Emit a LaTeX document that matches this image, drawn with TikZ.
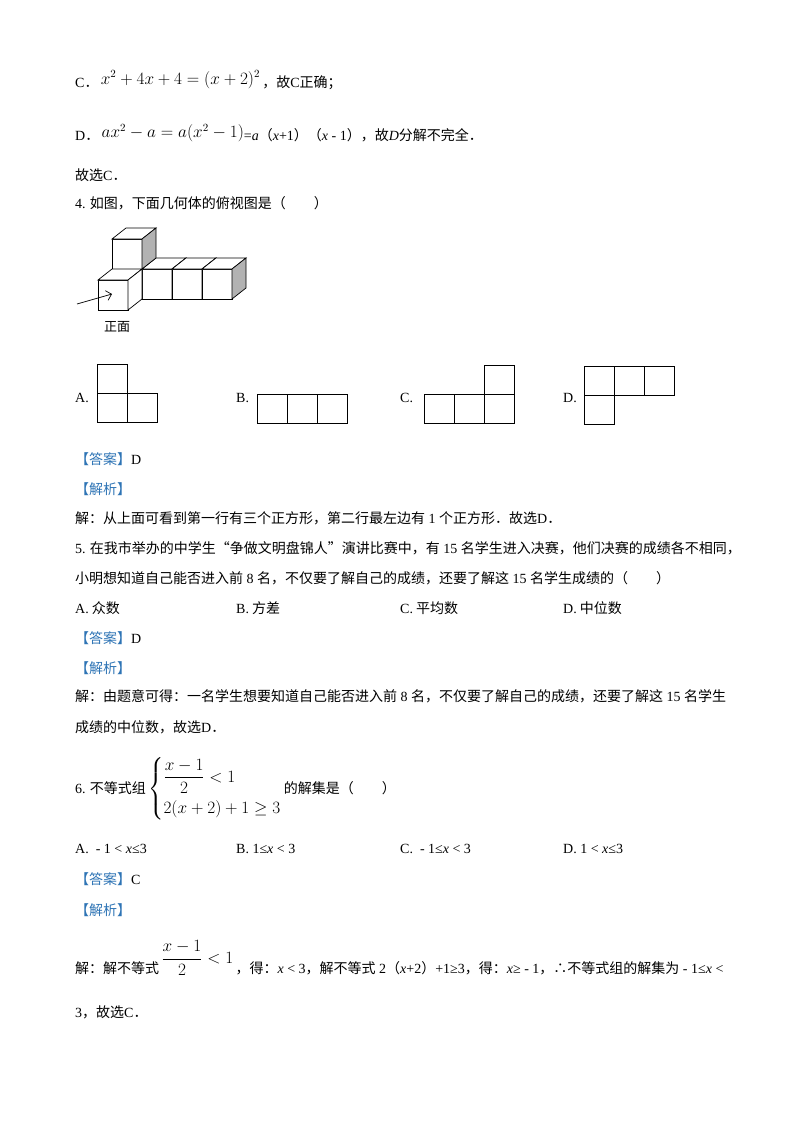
\documentclass[tikz,border=0pt]{standalone}
\usepackage{amsmath}
\usepackage{fontspec}
\setmainfont{Noto Sans CJK SC}
\newfontfamily\lat{Liberation Serif}
\usetikzlibrary{arrows.meta}
\definecolor{tagblue}{RGB}{46,116,181}
\newcommand{\lt}[1]{{\lat #1}}
\newcommand{\li}[1]{{\lat\itshape #1}}
\newcommand{\bm}[1]{{\fontsize{16}{19}\selectfont$#1$}}
\newcommand{\mytag}[1]{\textcolor{tagblue}{【#1】}}
\newcommand{\cubeat}[4]{%
  \filldraw[fill=white] (#1,#2,#3)--(#1+1,#2,#3)--(#1+1,#2+1,#3)--(#1,#2+1,#3)--cycle;
  \filldraw[fill=white] (#1,#2+1,#3)--(#1+1,#2+1,#3)--(#1+1,#2+1,#3+1)--(#1,#2+1,#3+1)--cycle;
  \filldraw[fill=#4] (#1+1,#2,#3)--(#1+1,#2,#3+1)--(#1+1,#2+1,#3+1)--(#1+1,#2+1,#3)--cycle;}
\begin{document}
\begin{tikzpicture}[x=1pt,y=-1pt,
  txt/.style={anchor=west,inner sep=0pt,font=\fontsize{14}{17}\selectfont},
  sq/.style={draw,line width=0.8pt}]
\useasboundingbox[fill=white] (0,0) rectangle (800,1132);
\node[txt] (l1) at (75,80) {\lt{C}．\,\raisebox{3pt}{\bm{x^2+4x+4=(x+2)^2}}\,，故\lt{C}正确；};
\node[txt] (l2) at (75,133) {\lt{D}．\,\raisebox{3pt}{\bm{ax^2-a=a(x^2-1)}}\lt{=\textit{a}}（\lt{\textit{x}+1}）（\lt{\textit{x} - 1}），故\li{D}分解不完全．};
\node[txt] (l3) at (75,175) {故选\lt{C}．};
\node[txt] (l4) at (75,203) {\lt{4.} 如图，下面几何体的俯视图是（\hspace{2em}）};
% cubes
\begin{scope}[shift={(98,310)},x={(30pt,0pt)},y={(0pt,30pt)},z={(14pt,11pt)},line width=0.7pt]
\cubeat{1}{0}{1}{white}
\cubeat{2}{0}{1}{white}
\cubeat{3}{0}{1}{gray!60}
\cubeat{0}{1}{1}{gray!60}
\cubeat{0}{0}{0}{white}
\end{scope}
\coordinate (as) at (77,304);
\coordinate (ae) at (112,294);
\draw[-{Straight Barb[length=5pt]},line width=0.7pt] (as)--(ae);
\node[txt,anchor=center,font=\fontsize{13}{15}\selectfont] (zm) at (117,327) {正面};
% options
\node[txt] (oa) at (75,398) {\lt{A.}};
\draw[sq] (97,364) rectangle (127,393) (97,393) rectangle (127,422) (127,393) rectangle (157,422);
\node[txt] (ob) at (236,398) {\lt{B.}};
\draw[sq] (257,394) rectangle (287,423) (287,394) rectangle (317,423) (317,394) rectangle (347,423);
\node[txt] (oc) at (400,398) {\lt{C.}};
\draw[sq] (424,394) rectangle (454,423) (454,394) rectangle (484,423) (484,394) rectangle (514,423) (484,365) rectangle (514,394);
\node[txt] (od) at (563,398) {\lt{D.}};
\draw[sq] (584,366) rectangle (614,395) (614,366) rectangle (644,395) (644,366) rectangle (674,395) (584,395) rectangle (614,424);
\node[txt] (a4) at (75,459) {\mytag{答案}\lt{D}};
\node[txt] (j4) at (75,489) {\mytag{解析}};
\node[txt] (s4) at (75,518) {解：从上面可看到第一行有三个正方形，第二行最左边有\lt{ 1 }个正方形．故选\lt{D}．};
\node[txt] (q5) at (75,548) {\lt{5.} 在我市举办的中学生“争做文明盘锦人”演讲比赛中，有\lt{ 15 }名学生进入决赛，他们决赛的成绩各不相同，};
\node[txt] (q5b) at (75,578) {小明想知道自己能否进入前\lt{ 8 }名，不仅要了解自己的成绩，还要了解这\lt{ 15 }名学生成绩的（\hspace{2em}）};
\node[txt] (p5a) at (75,608) {\lt{A.} 众数};
\node[txt] (p5b) at (236,608) {\lt{B.} 方差};
\node[txt] (p5c) at (400,608) {\lt{C.} 平均数};
\node[txt] (p5d) at (563,608) {\lt{D.} 中位数};
\node[txt] (a5) at (75,638) {\mytag{答案}\lt{D}};
\node[txt] (j5) at (75,668) {\mytag{解析}};
\node[txt] (s5) at (75,696) {解：由题意可得：一名学生想要知道自己能否进入前\lt{ 8 }名，不仅要了解自己的成绩，还要了解这\lt{ 15 }名学生};
\node[txt] (s5b) at (75,727) {成绩的中位数，故选\lt{D}．};
\node[txt] (q6) at (75,789) {\lt{6.} 不等式组\,\bm{\left\{\begin{array}{@{}l@{}}\dfrac{x-1}{2}<1\\[12pt] 2(x+2)+1\geq 3\end{array}\right.}\,的解集是（\hspace{2em}）};
\node[txt] (p6a) at (75,849) {\lt{A.\ \ - 1 < \textit{x}≤3}};
\node[txt] (p6b) at (236,849) {\lt{B. 1≤\textit{x} < 3}};
\node[txt] (p6c) at (400,849) {\lt{C.\ \ - 1≤\textit{x} < 3}};
\node[txt] (p6d) at (563,849) {\lt{D. 1 < \textit{x}≤3}};
\node[txt] (a6) at (75,879) {\mytag{答案}\lt{C}};
\node[txt] (j6) at (75,910) {\mytag{解析}};
\node[txt] (s6) at (75,958) {解：解不等式\,\raisebox{10pt}{\bm{\dfrac{x-1}{2}<1}}\,，得：\lt{\textit{x} < 3}，解不等式\lt{ 2}（\lt{\textit{x}+2}）\lt{+1≥3}，得：\lt{\textit{x}≥ - 1}，∴不等式组的解集为\lt{ - 1≤\textit{x} <}};
\node[txt] (s6b) at (75,1012) {\lt{3}，故选\lt{C}．};
\end{tikzpicture}
\end{document}
